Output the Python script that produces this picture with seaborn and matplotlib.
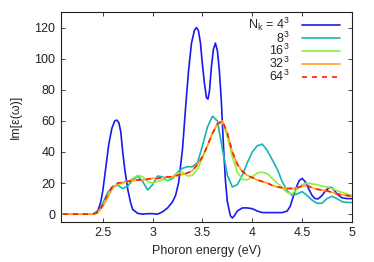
import numpy as np
import pandas as pd
import matplotlib
matplotlib.use("Agg")
import matplotlib.pyplot as plt
import seaborn as sns

# photon energy grid (eV) shared by the converged meshes
energy = np.round(np.arange(2.10, 5.0001, 0.05), 2)

# the 4^3 curve has sharp peaks, so it gets its own, denser x list
energy_4 = [2.10, 2.40, 2.45, 2.48, 2.50, 2.53, 2.56, 2.59, 2.62, 2.64, 2.66,
            2.68, 2.70, 2.72, 2.75, 2.78, 2.80, 2.85, 2.90, 2.95, 3.00, 3.05,
            3.10, 3.15, 3.20, 3.23, 3.26, 3.30, 3.33, 3.36, 3.39, 3.42, 3.44,
            3.46, 3.48, 3.50, 3.52, 3.54, 3.555, 3.57, 3.59, 3.61, 3.63, 3.65,
            3.67, 3.69, 3.71, 3.73, 3.75, 3.78, 3.80, 3.82, 3.85, 3.90, 3.95,
            4.00, 4.05, 4.10, 4.30, 4.35, 4.38, 4.41, 4.44, 4.47, 4.50, 4.53,
            4.56, 4.60, 4.63, 4.66, 4.70, 4.74, 4.78, 4.81, 4.85, 4.90, 4.95,
            5.00]
eps_4 = [0, 0, 2, 8, 15, 30, 45, 55, 60, 60.5, 59,
         53, 40, 29, 16, 7, 3, 0.5, 0, 0.3, 0.3, 0,
         1.5, 4, 8, 12, 20, 42, 68, 92, 110, 118.5, 120,
         118, 110, 96, 84, 75, 74, 79, 95, 106, 110, 105,
         92, 72, 45, 22, 8, -1, -2.5, -1, 2, 4, 4,
         3.5, 2, 1, 1, 2, 5, 11, 17, 21.5, 23, 21,
         17, 12, 10, 9.8, 12, 15.5, 17.3, 16.5, 13, 10.5, 10,
         10]

# Im[eps(omega)] for the denser meshes
eps_8 = [0, 0, 0, 0, 0, 0, 0, 1, 7, 14, 18, 18.5, 16.5, 18, 22, 24.5,
         21, 15.5, 19, 24.5, 24, 21.5, 23, 27, 29.5, 30.5, 30.5, 33, 44, 56,
         63, 60, 42, 25, 17.5, 19, 25, 33, 40, 44, 45, 41, 35, 29, 21,
         15, 12, 13, 14.5, 12, 9, 7, 7, 10, 11.5, 10, 8, 7.5, 7.5]
eps_16 = [0, 0, 0, 0, 0, 0, 0, 1, 5, 12, 17, 19, 20, 21, 23, 25,
          24, 21, 20, 21, 22, 22, 24, 26.5, 27, 24.5, 25, 29, 36, 44,
          52, 58, 59, 50, 37, 27, 22.5, 22, 24, 26.5, 27, 26, 23, 20, 17,
          14, 13, 16, 19, 20, 19.5, 19, 18, 17.5, 16.5, 15, 14, 13, 12]
eps_32 = [0, 0, 0, 0, 0, 0, 0, 1, 5, 11, 17, 19.5, 20.5, 21, 21.5, 22,
          22, 22.5, 23, 23, 23.5, 24, 24, 25, 25.5, 26.5, 28, 32, 37, 44,
          52, 58, 60, 52, 40, 32, 27.5, 25, 23.5, 22, 21, 20, 18.5, 17.5, 17,
          16.5, 16.5, 17, 18, 18.5, 17, 16, 15.5, 15, 14, 13, 12.5, 12, 11.5]
eps_64 = [0, 0, 0, 0, 0, 0, 0, 1, 6, 13, 18, 20, 20.5, 21, 21.5, 22,
          22, 22.5, 23, 23, 23.5, 24, 24, 25, 25.5, 26.5, 28, 32, 37, 44,
          52, 58, 60, 52, 40, 32, 27.5, 25, 23.5, 22, 21, 20, 18.5, 17.5, 17,
          16.5, 16.5, 17, 18, 18.5, 17, 16, 15.5, 15, 14, 13, 12.5, 12, 11.5]

labels = [r"N$_\mathregular{k}$ = 4$^\mathregular{3}$", r"8$^\mathregular{3}$",
          r"16$^\mathregular{3}$", r"32$^\mathregular{3}$", r"64$^\mathregular{3}$"]
xs = [energy_4, energy, energy, energy, energy]
series = [eps_4, eps_8, eps_16, eps_32, eps_64]
colors = ["#1a1aee", "#1ab3b3", "#8cf03c", "#ffa31a", "#ff1a1a"]
styles = ["-", "-", "-", "-", (0, (3, 3))]

df = pd.concat(
    [pd.DataFrame({"energy": x, "eps": vals, "mesh": lab})
     for x, vals, lab in zip(xs, series, labels)],
    ignore_index=True,
)

sns.set_style("ticks")
plt.rcParams["font.family"] = ["Liberation Sans", "DejaVu Sans"]
plt.rcParams["font.size"] = 9

fig = plt.figure(figsize=(3.74, 2.62), dpi=100)
ax = fig.add_axes([0.163, 0.153, 0.778, 0.801])

for lab, col, ls in zip(labels, colors, styles):
    sns.lineplot(data=df[df["mesh"] == lab], x="energy", y="eps", color=col,
                 linestyle=ls, linewidth=1.2, label=lab, ax=ax)

ax.set_xlim(2.08, 5.0)
ax.set_ylim(-5, 130)
ax.set_xticks([2.5, 3, 3.5, 4, 4.5, 5])
ax.set_xticklabels(["2.5", "3", "3.5", "4", "4.5", "5"])
ax.set_yticks([0, 20, 40, 60, 80, 100, 120])
ax.tick_params(direction="in", length=3, width=0.6, top=True, right=True,
               labelsize=9, colors="#222222", pad=4)
for sp in ax.spines.values():
    sp.set_linewidth(0.8)
    sp.set_color("#222222")

ax.set_xlabel("Phoron energy (eV)", fontsize=9)
ax.set_ylabel("Im[ε(ω)]", fontsize=9, labelpad=9)

ax.legend(loc="upper right", bbox_to_anchor=(0.975, 1.006), frameon=False,
          markerfirst=False, handlelength=3.0, handletextpad=1.0,
          labelspacing=-0.2, borderaxespad=0.0, fontsize=9)

fig.savefig("out.png", dpi=100)
